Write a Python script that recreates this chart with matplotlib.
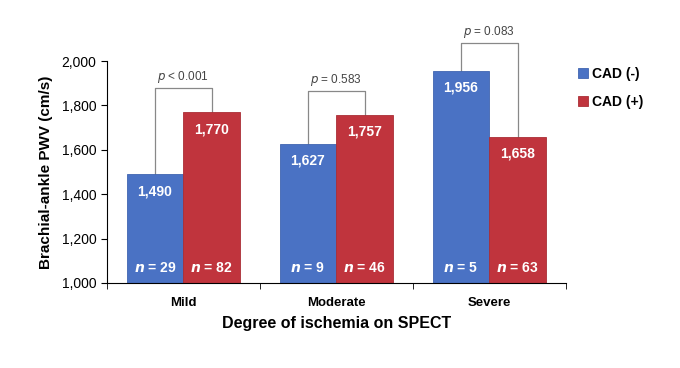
import numpy as np
import matplotlib.pyplot as plt
from matplotlib.ticker import FuncFormatter

plt.rcParams['font.family'] = ['Liberation Sans', 'DejaVu Sans']

groups = ['Mild', 'Moderate', 'Severe']
cad_neg = [1490, 1627, 1956]
cad_pos = [1770, 1757, 1658]
n_neg = [29, 9, 5]
n_pos = [82, 46, 63]
p_texts = ['p < 0.001', 'p = 0.583', 'p = 0.083']
bracket_top = [1878, 1865, 2081]

blue = '#4a72c4'
red = '#c0343d'

fig = plt.figure(figsize=(6.8, 3.68), dpi=100)
ax = fig.add_axes([0.157, 0.231, 0.675, 0.603])

x = np.arange(len(groups))
w = 0.37
ax.bar(x - w / 2, np.array(cad_neg) - 1000, w, bottom=1000, color=blue,
       edgecolor='#4065b0', linewidth=0.6, label='CAD (-)')
ax.bar(x + w / 2, np.array(cad_pos) - 1000, w, bottom=1000, color=red,
       edgecolor='#aa2e36', linewidth=0.6, label='CAD (+)')

for i in range(len(groups)):
    for xi, v, n in [(x[i] - w / 2, cad_neg[i], n_neg[i]), (x[i] + w / 2, cad_pos[i], n_pos[i])]:
        ax.text(xi, v - 45, f'{v:,}', color='white', fontsize=10, fontweight='bold',
                ha='center', va='top')
        ax.text(xi, 1035, r'$\mathbfit{n}$' + f' = {n}', color='white', fontsize=10,
                fontweight='bold', ha='center', va='bottom')
    # bracket
    top = bracket_top[i]
    ax.plot([x[i] - w / 2, x[i] - w / 2, x[i] + w / 2, x[i] + w / 2],
            [cad_neg[i], top, top, cad_pos[i]], color='#888888', lw=0.9, clip_on=False, zorder=0)
    p, rest = p_texts[i].split(' ', 1)
    ax.text(x[i], top + 15, r'$\it{p}$ ' + rest, fontsize=8.5, color='#444444',
            ha='center', va='bottom')

ax.set_ylim(1000, 2000)
ax.set_xlim(-0.5, 2.5)
ax.set_yticks(np.arange(1000, 2001, 200))
ax.yaxis.set_major_formatter(FuncFormatter(lambda v, pos: f'{int(v):,}'))
ax.set_xticks(x)
ax.set_xticklabels(groups, fontsize=9.5, fontweight='bold')
ax.set_xticks([-0.5, 0.5, 1.5, 2.5], minor=True)
ax.tick_params(axis='x', which='major', length=0, pad=10)
ax.tick_params(axis='x', which='minor', length=4, direction='out')
ax.tick_params(axis='y', labelsize=10, length=4, direction='out')
ax.spines['top'].set_visible(False)
ax.spines['right'].set_visible(False)

ax.set_ylabel('Brachial-ankle PWV (cm/s)', fontsize=11, fontweight='bold', labelpad=6)
ax.set_xlabel('Degree of ischemia on SPECT', fontsize=11.5, fontweight='bold', labelpad=5)

ax.legend(loc='upper left', bbox_to_anchor=(1.0, 1.03), frameon=False,
          prop={'weight': 'bold', 'size': 10}, handlelength=0.7, handleheight=0.7,
          handletextpad=0.3, labelspacing=1.0)

fig.savefig('out.png', dpi=100)
